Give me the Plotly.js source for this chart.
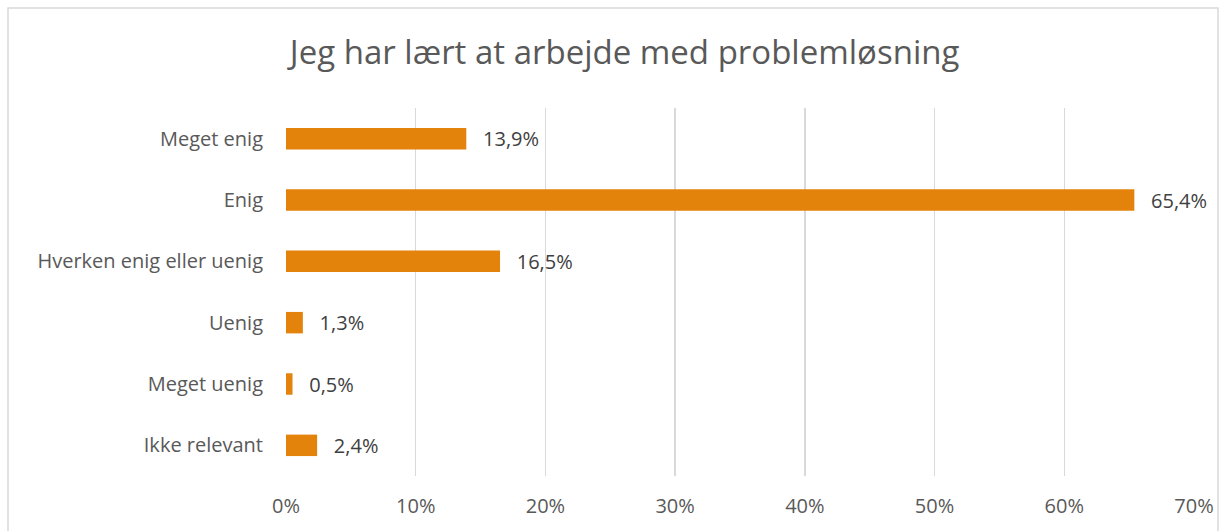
<!DOCTYPE html>
<html>
<head>
<meta charset="utf-8">
<script src="https://cdn.plot.ly/plotly-3.0.1.min.js"></script>
<style>html,body{margin:0;padding:0;background:#fff;}#chart{width:1232px;height:531px;}</style>
</head>
<body>
<div id="chart"></div>
<script>
const categories = ["Meget enig", "Enig", "Hverken enig eller uenig", "Uenig", "Meget uenig", "Ikke relevant"];
const values = [13.9, 65.4, 16.5, 1.3, 0.5, 2.4];
const tickValues = [0, 10, 20, 30, 40, 50, 60, 70];
const tickLabels = ["0%", "10%", "20%", "30%", "40%", "50%", "60%", "70%"];
const titleText = "Jeg har lært at arbejde med problemløsning";

const labels = values.map(v => "\u00a0\u00a0\u2009" + v.toFixed(1).replace(".", ",") + "%");
const FONT = "'Open Sans', sans-serif";

const trace = {
  type: "bar",
  orientation: "h",
  y: categories,
  x: values,
  text: labels,
  textposition: "outside",
  constraintext: "none",
  cliponaxis: false,
  textfont: {family: FONT, size: 20, color: "#404040"},
  marker: {color: "#E3830B"},
  width: 0.35,
  hoverinfo: "skip"
};

const W = 1232, H = 531, L = 286, R = 38, T = 108, B = 55;
const pw = W - L - R, ph = H - T - B;
function px(x){ return (x - L) / pw; }
function py(y){ return (H - B - y) / ph; }

const layout = {
  width: W, height: H,
  margin: {l: L, r: R, t: T, b: B, pad: 0},
  paper_bgcolor: "#ffffff",
  plot_bgcolor: "#ffffff",
  showlegend: false,
  title: {text: titleText, font: {family: FONT, size: 33, color: "#595959"}, x: 0.507, xanchor: "center", y: 1 - 52/H, yanchor: "middle"},
  xaxis: {
    range: [0, 70],
    tickvals: tickValues,
    ticktext: tickLabels,
    showgrid: true, gridcolor: "#d9d9d9", gridwidth: 1.5,
    zeroline: false, showline: false, ticks: "",
    ticklabelstandoff: 16,
    tickfont: {family: FONT, size: 20, color: "#595959"},
    fixedrange: true
  },
  yaxis: {
    autorange: "reversed",
    type: "category",
    showgrid: false, zeroline: false, showline: false, ticks: "",
    ticklabelstandoff: 22,
    tickfont: {family: FONT, size: 20, color: "#595959"},
    fixedrange: true
  },
  shapes: [
    {type: "rect", xref: "paper", yref: "paper", x0: px(8), x1: px(1218), y0: py(545), y1: py(8),
     line: {color: "#d9d9d9", width: 1.5}, fillcolor: "rgba(0,0,0,0)", layer: "below"}
  ]
};

Plotly.newPlot("chart", [trace], layout, {displayModeBar: false, staticPlot: true});
</script>
</body>
</html>
